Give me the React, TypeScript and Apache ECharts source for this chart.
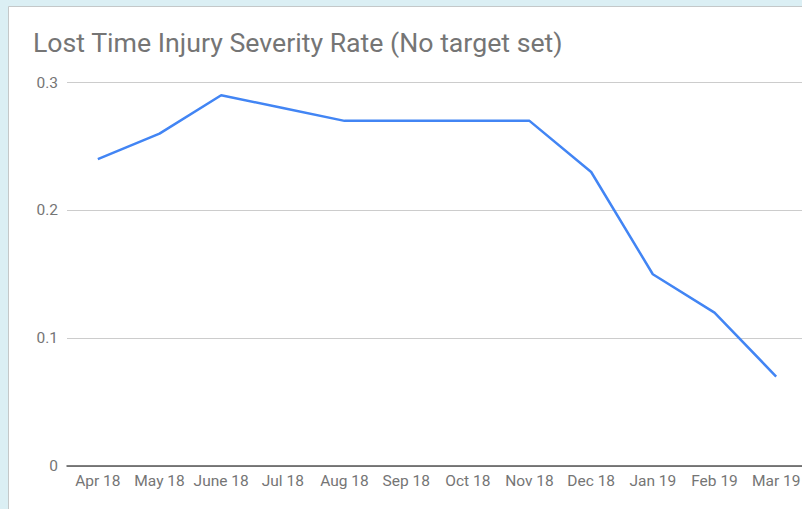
import React, { useEffect, useRef } from "react";
import * as echarts from "echarts";

const categories = ["Apr 18", "May 18", "June 18", "Jul 18", "Aug 18", "Sep 18", "Oct 18", "Nov 18", "Dec 18", "Jan 19", "Feb 19", "Mar 19"];
const severityRate = [0.24, 0.26, 0.29, 0.28, 0.27, 0.27, 0.27, 0.27, 0.23, 0.15, 0.12, 0.07];
const yTicks = [0, 0.1, 0.2, 0.3];
const titleText = "Lost Time Injury Severity Rate (No target set)";

export default function App() {
  const ref = useRef<HTMLDivElement>(null);
  useEffect(() => {
    if (!ref.current) return;
    const chart = echarts.init(ref.current, null, { renderer: "svg" });
    chart.setOption({
      animation: false,
      backgroundColor: "transparent",
      graphic: [
        {
          type: "rect",
          z: -10,
          shape: { x: 8.5, y: 6.5, width: 900, height: 600 },
          style: { fill: "#ffffff", stroke: "#c4c8c9", lineWidth: 1 },
        },
        {
          type: "text",
          x: 33,
          y: 29,
          style: {
            text: titleText,
            font: "26.7px Roboto",
            fill: "#757575",
          },
        },
      ],
      grid: { left: 67, top: 82.5, width: 740, height: 383.5 },
      xAxis: {
        type: "category",
        data: categories,
        boundaryGap: true,
        axisLine: { show: true, lineStyle: { color: "#555555", width: 1.5 } },
        axisTick: { show: false },
        axisLabel: { color: "#757575", fontSize: 15.5, fontFamily: "Roboto", margin: 7, interval: 0 },
        splitLine: { show: false },
      },
      yAxis: {
        type: "value",
        min: 0,
        max: 0.3,
        interval: 0.1,
        axisLine: { show: false },
        axisTick: { show: false },
        axisLabel: {
          color: "#757575",
          fontSize: 15.5,
          fontFamily: "Roboto",
          margin: 9,
          formatter: (v: number) => {
            const t = yTicks.find((x) => Math.abs(x - v) < 1e-9);
            return t === undefined ? "" : String(+t.toFixed(1));
          },
        },
        splitLine: { show: true, lineStyle: { color: "#cccccc", width: 1 } },
      },
      series: [
        {
          type: "line",
          data: severityRate,
          symbol: "none",
          lineStyle: { color: "#4285f4", width: 2.5 },
          itemStyle: { color: "#4285f4" },
        },
      ],
    });
    return () => chart.dispose();
  }, []);
  return (
    <div style={{ position: "fixed", left: 0, top: 0, width: 802, height: 509, overflow: "hidden", background: "#dbeff4" }}>
      <div ref={ref} style={{ width: 830, height: 509 }} />
    </div>
  );
}
